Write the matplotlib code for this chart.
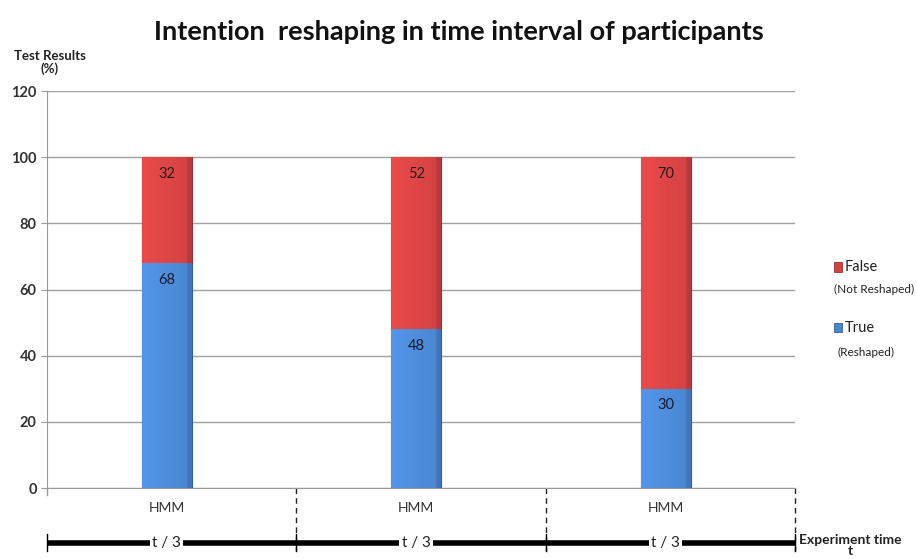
import matplotlib.pyplot as plt
import numpy as np
from matplotlib.patches import Rectangle

plt.rcParams['font.family'] = ['Lato', 'DejaVu Sans']

# data
groups = ["HMM", "HMM", "HMM"]
true_vals = [68, 48, 30]     # reshaped
false_vals = [32, 52, 70]    # not reshaped
period_labels = ["t / 3", "t / 3", "t / 3"]

red = "#d24242"
blue = "#4a86d0"

fig = plt.figure(figsize=(9.17, 5.59), dpi=100)
ax = fig.add_axes([0.0513, 0.127, 0.816, 0.710])

x = np.arange(len(groups)) + 0.48
w = 0.2


def shade(bars, base):
    # soft bevel: slightly lighter at the left edge, darker at the right edge
    c = np.array(plt.matplotlib.colors.to_rgb(base))
    grad = np.linspace(0, 1, 64)
    fac = 1.12 - 0.12 * grad
    fac[-6:] = 0.88
    img = np.array([c * f for f in fac]).clip(0, 1)[None, :, :]
    for b in bars:
        x0, y0 = b.get_x(), b.get_y()
        im = ax.imshow(img, extent=[x0, x0 + b.get_width(), y0, y0 + b.get_height()],
                       aspect="auto", zorder=3, interpolation="bilinear")
        im.set_clip_path(b)


b1 = ax.bar(x, true_vals, w, color=blue, edgecolor="#2f5f9e", linewidth=0.8, zorder=3)
b2 = ax.bar(x, false_vals, w, bottom=true_vals, color=red, edgecolor="#9e2f2f",
            linewidth=0.8, zorder=3)
shade(b1, blue)
shade(b2, red)

for xi, t, f in zip(x, true_vals, false_vals):
    ax.text(xi, t - 5, str(t), ha="center", va="center", fontsize=10.5, color="#1a1a2a", zorder=5)
    ax.text(xi, t + f - 5, str(f), ha="center", va="center", fontsize=10.5, color="#2a1a1a", zorder=5)

ax.set_xlim(0, 3)
ax.set_ylim(0, 120)
ax.set_yticks(range(0, 121, 20))
ax.set_yticklabels([str(v) for v in range(0, 121, 20)], fontsize=10.5, fontweight="bold", color="#333333")
ax.yaxis.grid(True, color="#a0a0a0", linewidth=1)
ax.set_axisbelow(True)
ax.set_xticks([])
for s in ["top", "right"]:
    ax.spines[s].set_visible(False)
ax.spines["left"].set_color("#999999")
ax.spines["bottom"].set_color("#999999")
ax.tick_params(axis="y", length=4, color="#999999")

# group labels and dashed separators below the axis
for xi, g in zip(x, groups):
    ax.text(xi, -6, g, ha="center", va="center", fontsize=10, color="#333333", clip_on=False)
for xb in [1, 2, 3]:
    ax.plot([xb, xb], [0, -19], ls=(0, (4, 3)), color="#222222", lw=1, clip_on=False)
ax.plot([0, 0], [0, -2], color="#999999", lw=1, clip_on=False)

# time axis bar
yt = -16.5
ax.plot([0, 3], [yt, yt], color="black", lw=4, clip_on=False, solid_capstyle="butt")
for xb in [0, 1, 2, 3]:
    ax.plot([xb, xb], [yt - 2.5, yt + 2.5], color="black", lw=1, clip_on=False)
for xi, lab in zip(x, period_labels):
    ax.text(xi, yt, lab, ha="center", va="center", fontsize=11,
            color="#222222", clip_on=False,
            bbox=dict(boxstyle="square,pad=0.15", fc="white", ec="none"))
ax.text(3.22, yt - 0.9, "Experiment time\nt", ha="center", va="center", fontsize=10,
        fontweight="bold", color="#222222", clip_on=False, linespacing=0.9)

# axis title
fig.text(0.054, 0.888, "Test Results\n(%)", ha="center", va="center", fontsize=9.5,
         fontweight="bold", color="#222222", linespacing=1.1)

fig.suptitle("Intention  reshaping in time interval of participants", y=0.965,
             fontsize=19.5, fontweight="bold", color="#111111")

# legend on the right
fig.add_artist(Rectangle((0.909, 0.514), 0.009, 0.017, transform=fig.transFigure,
                         fc=red, ec="#9e2f2f", lw=0.6))
fig.text(0.921, 0.522, "False", fontsize=10.5, va="center", color="#222222")
fig.text(0.909, 0.483, "(Not Reshaped)", fontsize=8.5, va="center", color="#222222")
fig.add_artist(Rectangle((0.909, 0.406), 0.009, 0.017, transform=fig.transFigure,
                         fc=blue, ec="#2f5f9e", lw=0.6))
fig.text(0.921, 0.414, "True", fontsize=10.5, va="center", color="#222222")
fig.text(0.913, 0.370, "(Reshaped)", fontsize=8.5, va="center", color="#222222")

fig.savefig("out.png", dpi=100)
